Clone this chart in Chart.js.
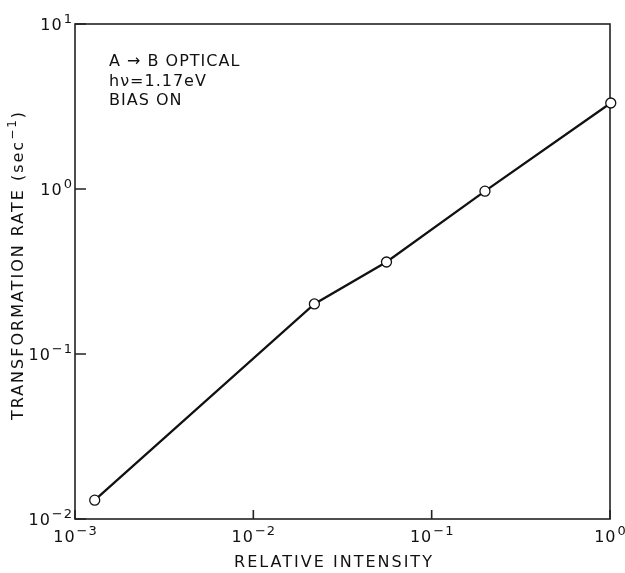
<!DOCTYPE html>
<html>
<head>
<meta charset="utf-8">
<script src="https://cdn.jsdelivr.net/npm/chart.js@4.4.0/dist/chart.umd.min.js"></script>
<style>
    html, body { margin: 0; padding: 0; background: #fff; }
    #wrap { width: 625px; height: 573px; }
</style>
</head>
<body>
<div id="wrap"><canvas id="grafico"></canvas></div>
<script>
// Dados (escala log-log)
var intensidade = [0.00129, 0.022, 0.0558, 0.199, 1.01];
var taxa = [0.0130, 0.201, 0.361, 0.97, 3.32];

// Marcas das décadas e expoentes dos rótulos (10^n)
var ticksX = [0.001, 0.01, 0.1, 1];
var expoentesX = ['−3', '−2', '−1', '0'];
var ticksY = [0.01, 0.1, 1, 10];
var expoentesY = ['−2', '−1', '0', '1'];

var tituloX = 'RELATIVE INTENSITY';
var tituloY = ['TRANSFORMATION RATE (sec', '−1', ')'];
var notas = ['A → B OPTICAL', 'hν=1.17eV', 'BIAS ON'];

var fonte = '"DejaVu Sans", sans-serif';

// Desenha "10" com o expoente sobrescrito
function potencia(ctx, exp, x, y, alinhamento) {
    ctx.font = '16px ' + fonte;
    const wb = ctx.measureText('10').width;
    ctx.font = '13px ' + fonte;
    const we = ctx.measureText(exp).width;
    var x0 = x;
    if (alinhamento === 'center') x0 = x - (wb + we) / 2;
    if (alinhamento === 'right') x0 = x - (wb + we);
    ctx.font = '16px ' + fonte;
    ctx.fillText('10', x0, y);
    ctx.font = '13px ' + fonte;
    ctx.fillText(exp, x0 + wb + 1, y - 7);
}

// Moldura, marcas internas dos eixos, rótulos, títulos e anotação
var moldura = {
    id: 'moldura',
    beforeDatasetsDraw: function (chart) {
        const ctx = chart.ctx;
        const a = chart.chartArea;
        const sx = chart.scales.x;
        const sy = chart.scales.y;
        ctx.save();
        ctx.strokeStyle = '#222';
        ctx.lineWidth = 1.6;
        ctx.strokeRect(a.left, a.top, a.right - a.left, a.bottom - a.top);

        ctx.beginPath();
        ticksX.forEach(v => {
            const px = sx.getPixelForValue(v);
            ctx.moveTo(px, a.bottom);
            ctx.lineTo(px, a.bottom - 9);
        });
        ticksY.forEach(v => {
            const py = sy.getPixelForValue(v);
            ctx.moveTo(a.left, py);
            ctx.lineTo(a.left + 11, py);
        });
        ctx.stroke();

        ctx.fillStyle = '#111';
        ctx.textBaseline = 'alphabetic';
        ctx.textAlign = 'left';
        ctx.letterSpacing = '1px';

        // rótulos dos eixos
        ticksX.forEach((v, i) => {
            potencia(ctx, expoentesX[i], sx.getPixelForValue(v), a.bottom + 23, 'center');
        });
        ticksY.forEach((v, i) => {
            potencia(ctx, expoentesY[i], a.left - 3, sy.getPixelForValue(v) + 6, 'right');
        });

        // anotação
        ctx.font = '16px ' + fonte;
        ctx.textBaseline = 'middle';
        notas.forEach((t, i) => {
            ctx.fillText(t, a.left + 34, a.top + 38 + i * 19.5);
        });

        // título do eixo x
        ctx.letterSpacing = '2px';
        ctx.textAlign = 'center';
        ctx.fillText(tituloX, 334, 563);

        // título do eixo y (com sobrescrito)
        ctx.textAlign = 'left';
        const w1 = ctx.measureText(tituloY[0]).width;
        const w3 = ctx.measureText(tituloY[2]).width;
        ctx.font = '12px ' + fonte;
        const w2 = ctx.measureText(tituloY[1]).width;
        const total = w1 + w2 + w3;
        ctx.translate(19, 265);
        ctx.rotate(-Math.PI / 2);
        var xi = -total / 2;
        ctx.font = '16px ' + fonte;
        ctx.fillText(tituloY[0], xi, 0);
        ctx.font = '12px ' + fonte;
        ctx.fillText(tituloY[1], xi + w1, -6);
        ctx.font = '16px ' + fonte;
        ctx.fillText(tituloY[2], xi + w1 + w2, 0);
        ctx.restore();
    }
};

var ctx = document.getElementById('grafico').getContext('2d');
var grafico = new Chart(ctx, {
    type: 'line',
    data: {
        datasets: [{
            label: 'Taxa',
            data: intensidade.map((x, i) => ({ x: x, y: taxa[i] })),
            borderColor: '#111',
            borderWidth: 2.3,
            backgroundColor: '#fff',
            pointBackgroundColor: '#fff',
            pointBorderColor: '#111',
            pointBorderWidth: 1.3,
            pointRadius: 5,
            tension: 0,
            clip: false
        }]
    },
    options: {
        responsive: true,
        maintainAspectRatio: false,
        animation: false,
        layout: { padding: { top: 24, right: 15, left: 0, bottom: 0 } },
        plugins: {
            legend: { display: false },
            tooltip: { enabled: false }
        },
        scales: {
            x: {
                type: 'logarithmic',
                min: 0.001,
                max: 1,
                afterBuildTicks: function (s) { s.ticks = ticksX.map(v => ({ value: v })); },
                afterFit: function (s) { s.height = 54; },
                grid: { display: false },
                border: { display: false },
                ticks: { display: false },
                title: { display: false }
            },
            y: {
                type: 'logarithmic',
                min: 0.01,
                max: 10,
                afterBuildTicks: function (s) { s.ticks = ticksY.map(v => ({ value: v })); },
                afterFit: function (s) { s.width = 75; },
                grid: { display: false },
                border: { display: false },
                ticks: { display: false },
                title: { display: false }
            }
        }
    },
    plugins: [moldura]
});
</script>
</body>
</html>
